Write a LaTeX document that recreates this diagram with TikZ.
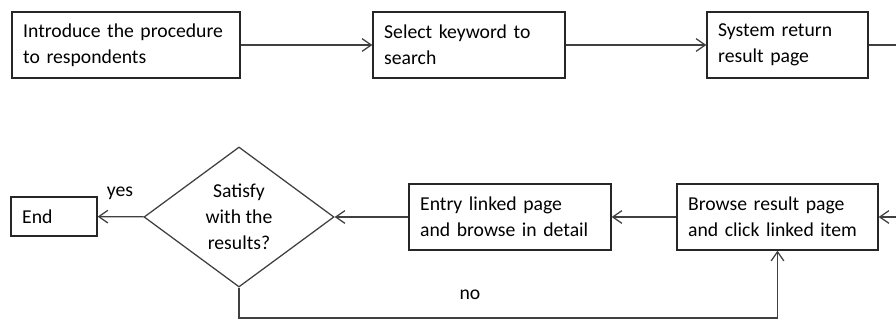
\documentclass[tikz,border=0pt]{standalone}
\usepackage{fontspec}
\setmainfont{Carlito}
\usetikzlibrary{shapes.geometric}
\usetikzlibrary{arrows.meta}
\definecolor{linegray}{RGB}{64,64,64}
\tikzset{ proc_box/.style = {rectangle, draw=black!85, line width=0.9pt, align=left, inner xsep=0.28cm, inner ysep=0pt, minimum height=1.65cm, font=\fontsize{14}{18.5}\selectfont} }
\tikzset{ decision/.style = {diamond, draw=linegray, line width=0.9pt, align=center, inner sep=0pt, minimum width=4.75cm, minimum height=3.5cm, font=\fontsize{14}{18.5}\selectfont} }
\tikzset{ flow/.style = {draw=linegray, line width=0.9pt, -{Straight Barb[length=6.5pt,width=9pt]}} }
\tikzset{ flow_line/.style = {draw=linegray, line width=0.9pt} }

\begin{document}
\begin{tikzpicture}[x=0.025cm, y=-0.025cm]
    \useasboundingbox (0,0) rectangle (896,320);
    % top row
    \node[proc_box, text width=5.14cm] (intro) at (126,45) {Introduce the procedure\\to respondents};
    \node[proc_box, text width=4.24cm] (keyword) at (469,45) {Select keyword to\\search};
    \node[proc_box, text width=3.465cm] (sysret) at (787.5,45) {System return\\result page};
    % bottom row
    \node[proc_box, text width=4.465cm] (browse) at (777.5,217) {Browse result page\\and click linked item};
    \node[proc_box, text width=4.49cm] (entry) at (510,217) {Entry linked page\\and browse in detail};
    \node[decision] (satisfy) at (239,217) {Satisfy\\with the\\results?};
    \node[proc_box, text width=1.59cm, minimum height=0.975cm] (end) at (54,216.5) {End};
    \node[font=\fontsize{14}{18.5}\selectfont] (yes) at (120,193) {yes};
    \node[font=\fontsize{14}{18.5}\selectfont] (no) at (470,295) {no};
    \coordinate (out) at (896,45);
    \coordinate (in) at (896,217);
    \coordinate (loop) at (239,318);
    \draw[flow] (intro) -- (keyword);
    \draw[flow] (keyword) -- (sysret);
    \draw[flow_line] (sysret) -- (out);
    \draw[flow] (in) -- (browse);
    \draw[flow] (browse) -- (entry);
    \draw[flow] (entry) -- (satisfy);
    \draw[flow] (satisfy) -- (end);
    \draw[flow] (satisfy.south) -- (loop) -| (browse.south);
\end{tikzpicture}
\end{document}
